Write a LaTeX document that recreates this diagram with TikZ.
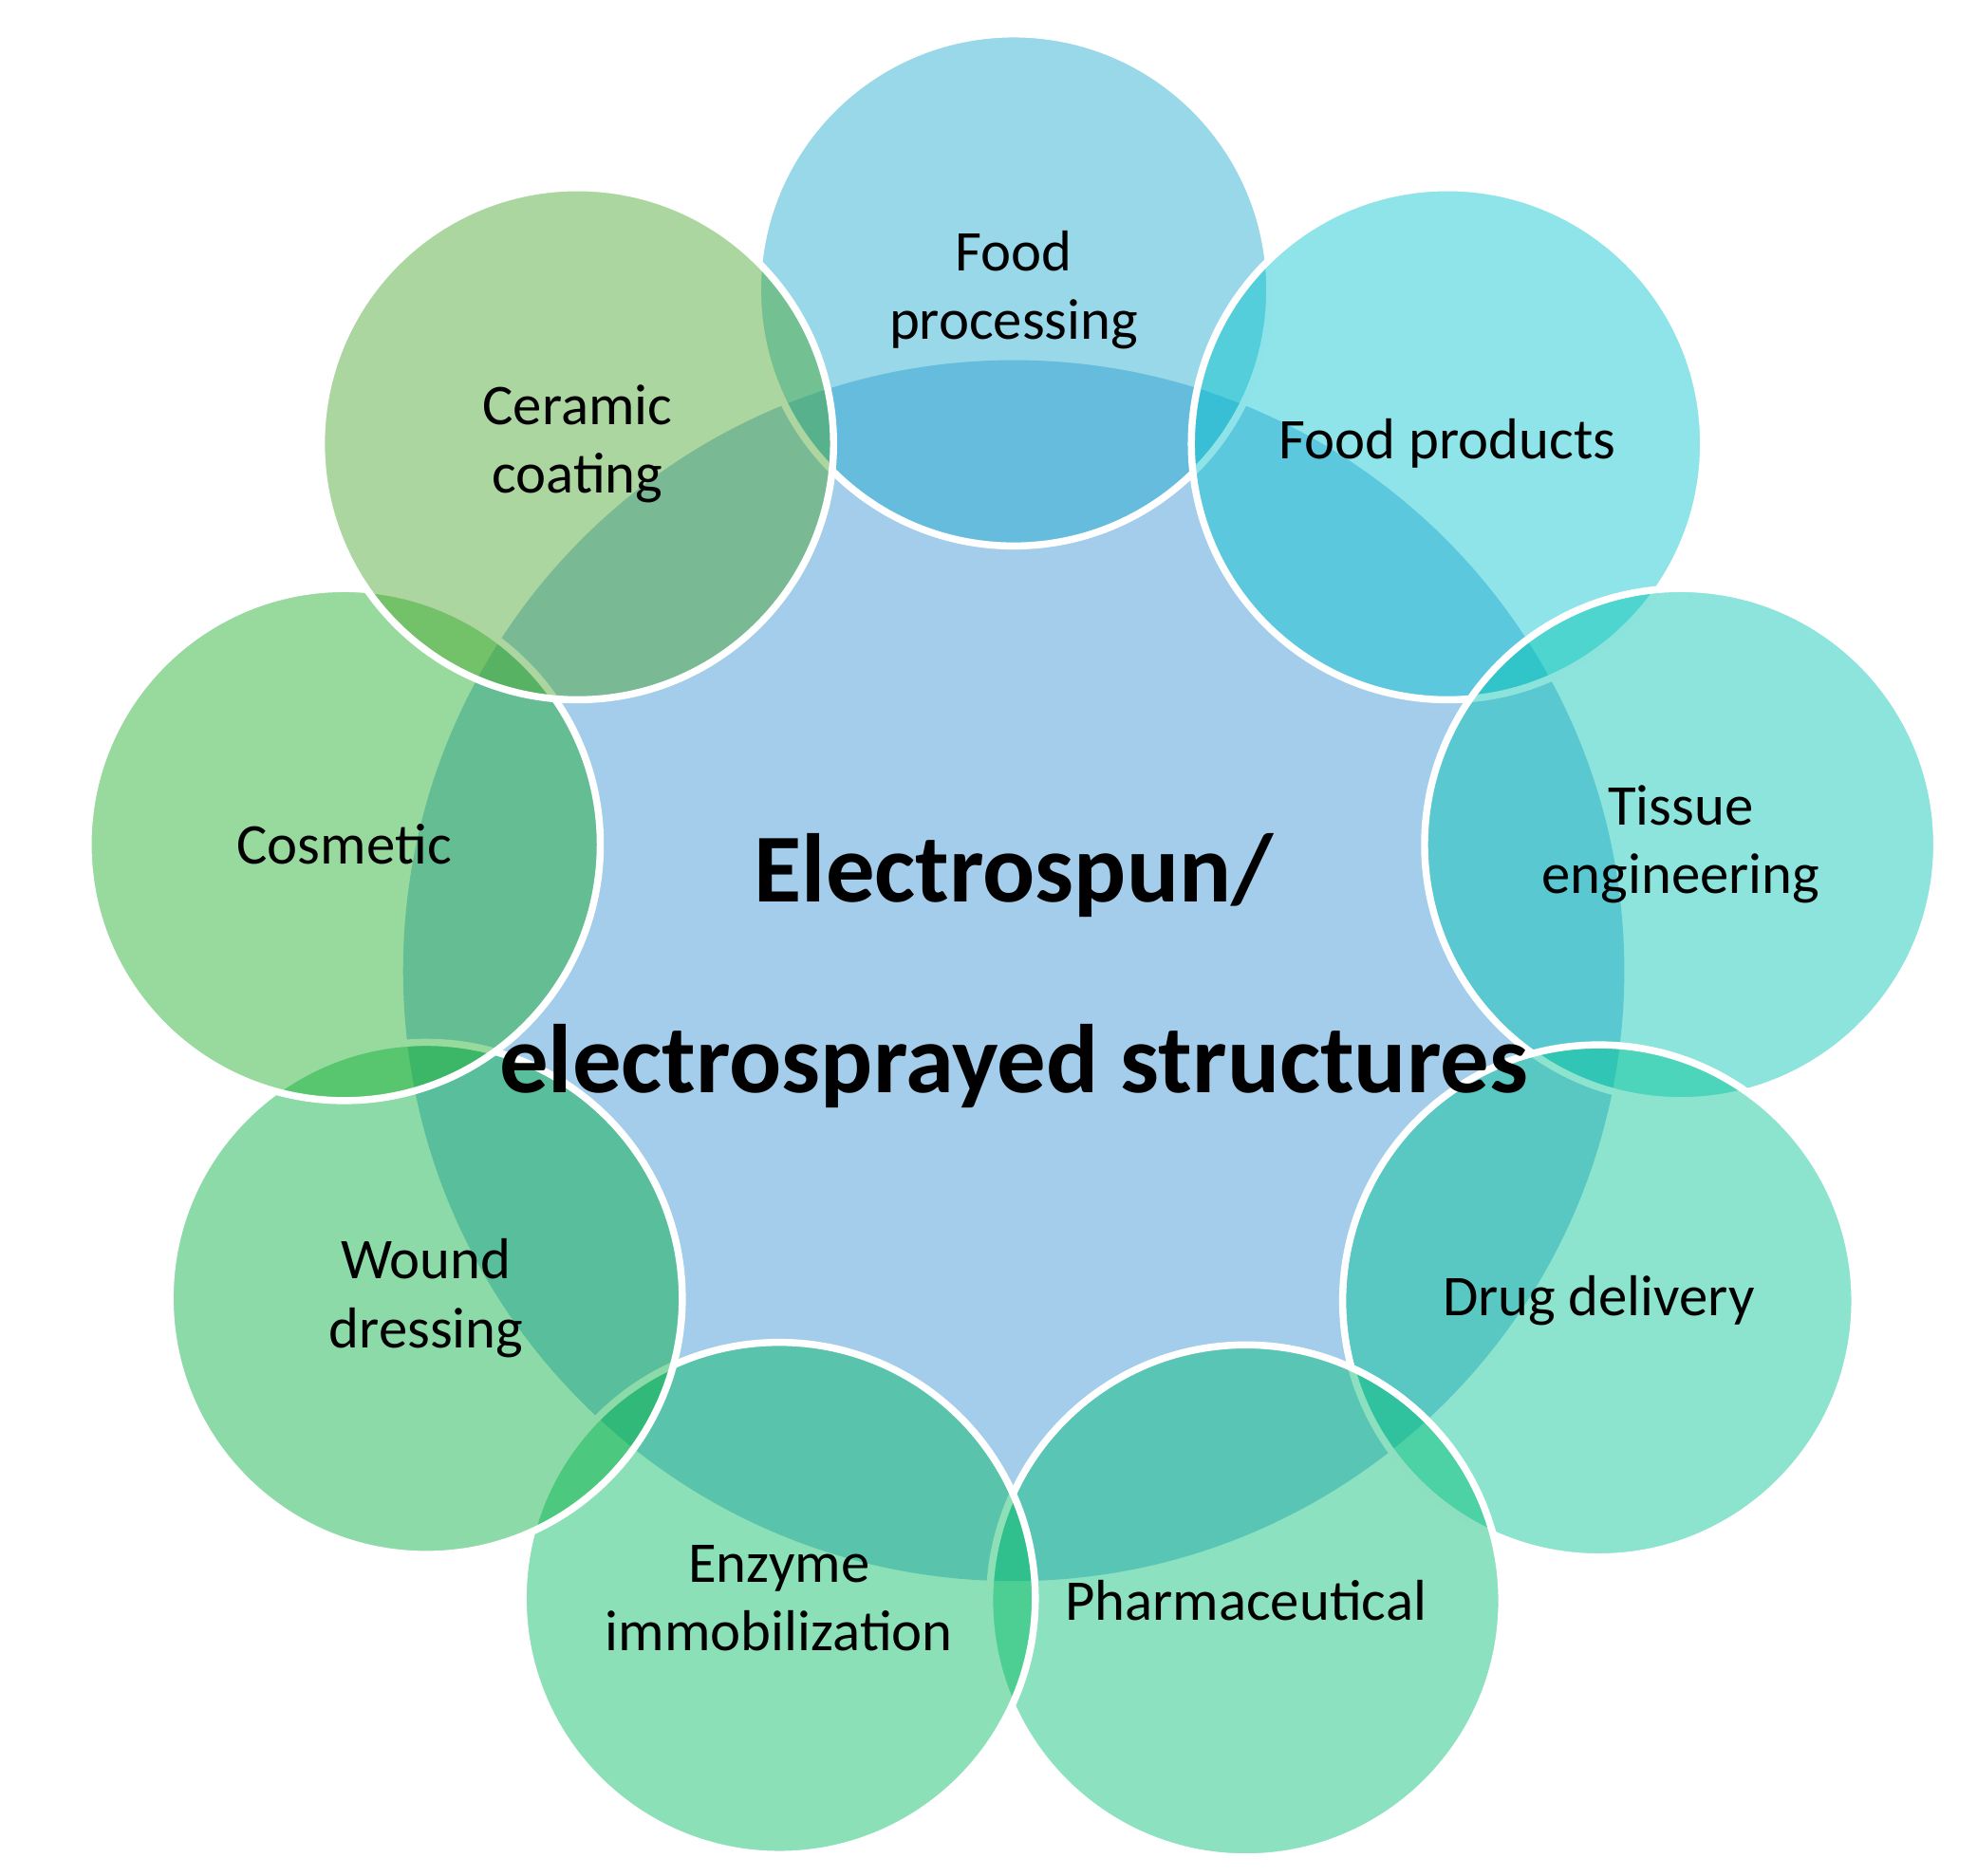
\documentclass[tikz,border=0pt]{standalone}
\usepackage{fontspec}
\setmainfont{Carlito}
\begin{document}
\begin{tikzpicture}[x=0.01cm,y=-0.01cm,
 sat/.style={circle,minimum size=4.06cm,inner sep=0pt,draw=white,line width=1.6pt,fill opacity=0.45},
 lab/.style={align=center,font=\fontsize{13}{15.5}\selectfont}]
\useasboundingbox (0,0) rectangle (1568,1488);
\definecolor{cc}{RGB}{163,205,235}
\node[circle,minimum size=9.68cm,inner sep=0pt,fill=cc] (c) at (804,770) {};
\definecolor{c1}{RGB}{26,168,204}
\definecolor{c2}{RGB}{4,195,204}
\definecolor{c3}{RGB}{0,195,178}
\definecolor{c4}{RGB}{0,195,147}
\definecolor{c5}{RGB}{0,188,115}
\definecolor{c6}{RGB}{0,186,95}
\definecolor{c7}{RGB}{0,173,60}
\definecolor{c8}{RGB}{26,173,40}
\definecolor{c9}{RGB}{71,164,44}
\node[sat,fill=c1] (a1) at (804,230) {};
\node[sat,fill=c2] (a2) at (1148,352) {};
\node[sat,fill=c3] (a3) at (1333,670) {};
\node[sat,fill=c4] (a4) at (1268,1032) {};
\node[sat,fill=c5] (a5) at (988,1270) {};
\node[sat,fill=c6] (a6) at (618,1268) {};
\node[sat,fill=c7] (a7) at (338,1030) {};
\node[sat,fill=c8] (a8) at (273,670) {};
\node[sat,fill=c9] (a9) at (458,352) {};
\node[lab] (l1) at (a1) {Food\\processing};
\node[lab] (l2) at (a2) {Food products};
\node[lab] (l3) at (a3) {Tissue\\engineering};
\node[lab] (l4) at (a4) {Drug delivery};
\node[lab] (l5) at (a5) {Pharmaceutical};
\node[lab] (l6) at (a6) {Enzyme\\immobilization};
\node[lab] (l7) at (a7) {Wound\\dressing};
\node[lab] (l8) at (a8) {Cosmetic};
\node[lab] (l9) at (a9) {Ceramic\\coating};
\node[align=center,font=\bfseries\fontsize{22}{43}\selectfont] (t) at (c) {Electrospun/\\electrosprayed structures};
\end{tikzpicture}
\end{document}
